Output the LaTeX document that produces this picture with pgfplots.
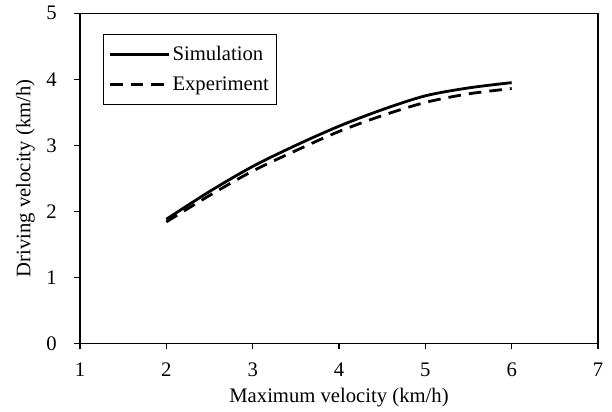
\documentclass[border=0pt]{standalone}
\usepackage{fontspec}
\setmainfont{Liberation Serif}
\usepackage{pgfplots}
\pgfplotsset{compat=1.18}

\begin{document}
\begin{tikzpicture}
\begin{axis}[
    name=ax,
    scale only axis,
    width=388.5pt,
    height=247.5pt,
    xmin=1, xmax=7,
    ymin=0, ymax=5,
    xtick={1,2,...,7},
    ytick={0,1,...,5},
    tick align=outside,
    major tick length=4.5pt,
    xtick pos=bottom,
    ytick pos=left,
    axis line style={line width=0.9pt},
    tick style={line width=0.9pt, black},
    /pgf/number format/assume math mode=true,
    ticklabel style={font=\fontsize{15.5}{18}\selectfont},
    xticklabel style={yshift=-6.5pt},
    yticklabel style={xshift=-9.5pt},
    label style={font=\fontsize{15.5}{18}\selectfont},
    xlabel={Maximum velocity (km/h)},
    ylabel={Driving velocity (km/h)},
    xlabel style={at={(axis description cs:0.5,-0.1636)}, anchor=center},
    ylabel style={at={(axis description cs:-0.1055,0.5)}, anchor=center},
    legend style={at={(0,1)}, anchor=north west, xshift=17pt, yshift=-15.5pt,
        font=\fontsize{15.5}{18}\selectfont, draw=black, line width=0.8pt,
        inner xsep=4pt, inner ysep=7pt, row sep=6.5pt},
    legend cell align=left,
    legend image code/.code={\draw[#1, line width=2pt] (0pt,0pt) -- (44pt,0pt);},
]
\addplot[black, line width=2.1pt, smooth]
  coordinates {(2,1.88)(2.5,2.30)(3,2.68)(3.5,3.00)(4,3.29)(4.5,3.54)(5,3.75)(5.5,3.87)(6,3.95)};
\addlegendentry{Simulation}
\addplot[black, line width=2.1pt, smooth, dash pattern=on 9.5pt off 6pt]
  coordinates {(2,1.84)(2.5,2.24)(3,2.61)(3.5,2.92)(4,3.21)(4.5,3.45)(5,3.65)(5.5,3.78)(6,3.86)};
\addlegendentry{Experiment}
\end{axis}
\path ([xshift=-60pt,yshift=-49.9pt]ax.south west) rectangle ([xshift=10.5pt,yshift=10pt]ax.north east);
\end{tikzpicture}
\end{document}
